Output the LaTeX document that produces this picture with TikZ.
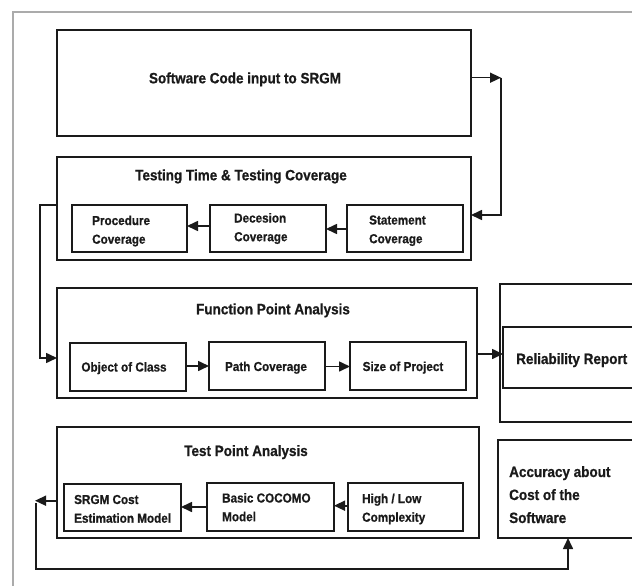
\documentclass[tikz,border=0pt]{standalone}
\usepackage{fontspec}
\setmainfont{Liberation Sans}[FakeStretch=0.9,BoldFeatures={FakeStretch=0.9,FakeBold=0.8}]
\usetikzlibrary{arrows.meta}
\definecolor{ink}{HTML}{1A1A1A}
\definecolor{framegray}{HTML}{ABABAB}
\begin{document}
\begin{tikzpicture}[x=1pt,y=-1pt,
  box/.style={draw=ink,line width=1.6pt,inner sep=0pt,outer sep=0pt},
  ttl/.style={font=\bfseries\fontsize{15}{18}\selectfont,text=ink,inner sep=0pt,anchor=base},
  lbl/.style={font=\bfseries\fontsize{13}{18.7}\selectfont,text=ink,inner sep=0pt,anchor=base west,align=left},
  big/.style={font=\bfseries\fontsize{15}{23}\selectfont,text=ink,inner sep=0pt,anchor=base west,align=left},
  arr/.style={draw=ink,line width=1.6pt,-{Triangle[length=11pt,width=10pt]}},
  link/.style={draw=ink,line width=1.6pt}]
\useasboundingbox (0,0) rectangle (632,586);
\draw[framegray,line width=2pt] (645,12) -- (13,12) -- (13,600);

% main boxes
\node[box,minimum width=414pt,minimum height=106pt] (box1) at (264,83) {};
\node[box,minimum width=414pt,minimum height=103pt] (box2) at (264,208.5) {};
\node[box,minimum width=420pt,minimum height=110pt] (box3) at (267,343) {};
\node[box,minimum width=422pt,minimum height=111pt] (box4) at (268,482.5) {};
\node[box,minimum width=145pt,minimum height=138pt] (relout) at (572.5,353) {};
\node[box,minimum width=142pt,minimum height=61pt] (relin) at (574,357.5) {};
\node[box,minimum width=147pt,minimum height=98pt] (acc) at (571.5,489) {};

% inner boxes
\node[box,minimum width=115pt,minimum height=47pt] (proc) at (129.5,228.5) {};
\node[box,minimum width=116pt,minimum height=47pt] (dec) at (268,228.5) {};
\node[box,minimum width=116pt,minimum height=47pt] (stat) at (405,228.5) {};
\node[box,minimum width=116pt,minimum height=48pt] (obj) at (128,367) {};
\node[box,minimum width=116pt,minimum height=48pt] (pathc) at (267,366) {};
\node[box,minimum width=116pt,minimum height=48pt] (size) at (408,366) {};
\node[box,minimum width=117pt,minimum height=47pt] (srgm) at (122.5,507.5) {};
\node[box,minimum width=127pt,minimum height=48pt] (coco) at (270.5,507) {};
\node[box,minimum width=115pt,minimum height=48pt] (high) at (405.5,507) {};

% texts (base anchor = baseline of last line)
\node[ttl] (t1) at (245,83.3) {Software Code input to SRGM};
\node[ttl] (t2) at (241,180.3) {Testing Time \& Testing Coverage};
\node[ttl] (t3) at (273,314.3) {Function Point Analysis};
\node[ttl] (t4) at (246,456) {Test Point Analysis};
\node[lbl] (tproc) at (92,243.7) {Procedure\\Coverage};
\node[lbl] (tdec) at (234,241.2) {Decesion\\Coverage};
\node[lbl] (tstat) at (369,243.2) {Statement\\Coverage};
\node[lbl,anchor=base] (tobj) at (124,371.5) {Object of Class};
\node[lbl,anchor=base] (tpath) at (266,371) {Path Coverage};
\node[lbl,anchor=base] (tsize) at (403,371) {Size of Project};
\node[lbl] (tsrgm) at (74,522.7) {SRGM Cost\\Estimation Model};
\node[lbl] (tcoco) at (222,521.2) {Basic COCOMO\\Model};
\node[lbl] (thigh) at (362,521.7) {High / Low\\Complexity};
\node[big] (trel) at (516,364) {Reliability Report};
\node[big] (tacc) at (509,523) {Accuracy about\\Cost of the\\Software};

% connectors
\coordinate (c1) at (501,77.7);
\coordinate (c2) at (501,215);
\draw[arr] (box1.east |- c1) -- (c1);
\draw[arr] (c1) -- (c2) -- (box2.east |- c2);

\coordinate (c3) at (40,205);
\coordinate (c4) at (40,358);
\draw[arr] (box2.west |- c3) -- (c3) -- (c4) -- (box3.west |- c4);

\draw[arr] (dec.west |- 0,226) -- (proc.east |- 0,226);
\draw[arr] (stat.west |- 0,229) -- (dec.east |- 0,229);
\draw[arr] (obj.east |- 0,366) -- (pathc.west |- 0,366);
\draw[arr] (pathc.east |- 0,366.5) -- (size.west |- 0,366.5);
\draw[arr] (box3.east |- 0,354) -- (relin.west |- 0,354);
\draw[arr] (coco.west |- 0,507) -- (srgm.east |- 0,507);
\draw[arr] (high.west |- 0,505.7) -- (coco.east |- 0,505.7);

\coordinate (c5) at (35,500.7);
\draw[arr] (box4.west |- c5) -- (c5);
\coordinate (c6) at (36,503);
\coordinate (c7) at (36,569);
\coordinate (c8) at (568,569);
\draw[arr] (c6) -- (c7) -- (c8) -- (c8 |- acc.south);
\end{tikzpicture}
\end{document}
